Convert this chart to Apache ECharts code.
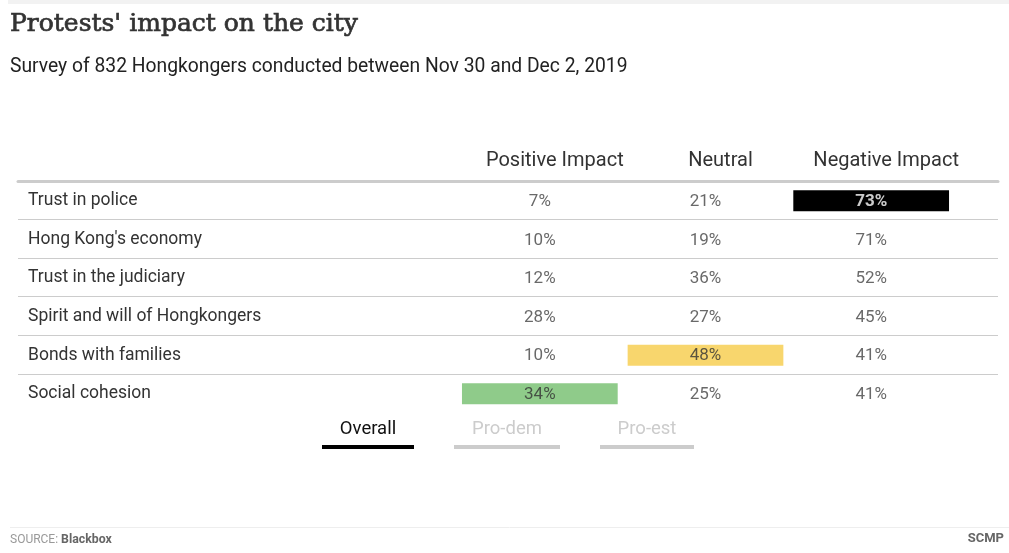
<!DOCTYPE html>
<html>
<head>
<meta charset="utf-8">
<script src="https://cdn.jsdelivr.net/npm/echarts@6/dist/echarts.min.js"></script>
<style>
  html, body { margin: 0; padding: 0; background: #fff; }
  #main { width: 1009px; height: 553px; }
</style>
</head>
<body>
<div id="main"></div>
<script>
// survey rows, top to bottom
const rows = ['Trust in police', "Hong Kong's economy", 'Trust in the judiciary',
  'Spirit and will of Hongkongers', 'Bonds with families', 'Social cohesion'];
const columns = ['Positive Impact', 'Neutral', 'Negative Impact'];
const positive = [7, 10, 12, 28, 10, 34];
const neutral = [21, 19, 36, 27, 48, 25];
const negative = [73, 71, 52, 45, 41, 41];
const tabs = ['Overall', 'Pro-dem', 'Pro-est'];

const colColors = ['#8fcb8a', '#f8d66d', '#000000'];
const colTextColors = ['#333', '#333', '#fff'];
const font = 'Roboto';

var chart = echarts.init(document.getElementById('main'));

// cells + highlighted max of each column
let table = [positive, neutral, negative];
let cells = [];
let marks = [];
table.forEach(function (vals, c) {
  let maxRow = vals.indexOf(Math.max.apply(null, vals));
  vals.forEach(function (v, r) {
    let hot = r === maxRow;
    cells.push({
      value: [c, r, v],
      label: hot ? { color: colTextColors[c], fontWeight: c === 2 ? 'bold' : 'normal' } : undefined
    });
  });
  marks.push([c, maxRow, vals[maxRow]]);
});

// tab buttons under the table
const tabX = [322, 454, 600];
const tabW = [92, 106, 94];
let tabGraphics = [];
tabs.forEach(function (t, i) {
  let on = i === 0;
  tabGraphics.push({
    type: 'rect', left: tabX[i], top: 445,
    shape: { width: tabW[i], height: 4 },
    style: { fill: on ? '#000' : '#ccc' }
  });
  tabGraphics.push({
    type: 'text', x: tabX[i] + tabW[i] / 2, y: 429,
    style: {
      text: t, fontFamily: font, fontSize: 18.5, fill: on ? '#111' : '#ccc',
      textAlign: 'center', textVerticalAlign: 'middle'
    }
  });
});

var option = {
  backgroundColor: '#fff',
  animation: false,
  title: [{
    text: "Protests' impact on the city",
    left: 10, top: 12, padding: 0,
    textStyle: {
      fontFamily: 'DejaVu Serif', fontSize: 25, fontWeight: 'normal', color: '#333',
      textBorderColor: '#333', textBorderWidth: 0.7
    }
  }, {
    text: 'Survey of 832 Hongkongers conducted between Nov 30 and Dec 2, 2019',
    left: 10, top: 58, padding: 0,
    textStyle: { fontFamily: font, fontSize: 19.3, fontWeight: 'normal', color: '#222' }
  }],
  grid: [
    { left: 18, right: 11, top: 181.5, height: 231.6 },
    { left: 457, right: 55, top: 181.5, height: 231.6 }
  ],
  xAxis: [{
    gridIndex: 0, type: 'value', min: 0, max: 1, position: 'top',
    axisLine: { show: true, lineStyle: { color: '#ccc', width: 3 } },
    axisTick: { show: false }, axisLabel: { show: false }, splitLine: { show: false }
  }, {
    gridIndex: 1, type: 'category', data: columns, position: 'top',
    axisLine: { show: false }, axisTick: { show: false }, splitLine: { show: false },
    axisLabel: {
      interval: 0, fontFamily: font, fontSize: 20, color: '#333', margin: 11,
      padding: [0, 0, 0, 30]
    }
  }],
  yAxis: [{
    gridIndex: 0, type: 'category', data: rows, inverse: true, show: false
  }, {
    gridIndex: 1, type: 'category', data: rows, inverse: true,
    axisLine: { show: false }, axisTick: { show: false }, splitLine: { show: false },
    axisLabel: {
      interval: 0, fontFamily: font, fontSize: 17.5, color: '#333', align: 'left', margin: 429,
      padding: [4, 0, 0, 0]
    }
  }],
  series: [{
    // row separators
    type: 'custom', xAxisIndex: 0, yAxisIndex: 0, silent: true,
    data: rows.slice(0, -1).map(function (r, i) { return [0, i]; }),
    renderItem: function (params, api) {
      let p = api.coord([0, api.value(1)]);
      let h = api.size([0, 1])[1];
      let cs = params.coordSys;
      let y = Math.round(p[1] + h / 2) - 0.5;
      return {
        type: 'line',
        shape: { x1: cs.x, y1: y, x2: cs.x + cs.width, y2: y },
        style: { stroke: '#ccc', lineWidth: 1 }
      };
    }
  }, {
    // highlighted cells
    type: 'custom', xAxisIndex: 1, yAxisIndex: 1, silent: true,
    data: marks,
    renderItem: function (params, api) {
      let p = api.coord([api.value(0), api.value(1)]);
      let s = api.size([1, 1]);
      let w = s[0] * 0.94, h = 21;
      return {
        type: 'rect',
        shape: { x: p[0] - w / 2, y: p[1] - h / 2, width: w, height: h },
        style: { fill: colColors[api.value(0)] }
      };
    }
  }, {
    type: 'scatter', xAxisIndex: 1, yAxisIndex: 1, silent: true,
    symbolSize: 0, data: cells,
    label: {
      show: true, position: 'inside', fontFamily: font, fontSize: 17, color: '#444',
      offset: [0, 1],
      formatter: function (p) { return p.value[2] + '%'; }
    }
  }],
  graphic: [
    { type: 'rect', left: 8, top: 0, shape: { width: 1001, height: 4 }, style: { fill: '#f2f2f2' } },
    { type: 'line', shape: { x1: 10, y1: 527.5, x2: 1009, y2: 527.5 }, style: { stroke: '#eee', lineWidth: 1 } },
    {
      type: 'text', x: 10, y: 540,
      style: {
        text: '{a|SOURCE: }{b|Blackbox}', textVerticalAlign: 'middle',
        rich: {
          a: { fontFamily: font, fontSize: 12, fill: '#999' },
          b: { fontFamily: font, fontSize: 12.3, fontWeight: 'bold', fill: '#666' }
        }
      }
    },
    {
      type: 'text', x: 1004, y: 539,
      style: { text: 'SCMP', fontFamily: font, fontSize: 13, fontWeight: 'bold', fill: '#666', textAlign: 'right', textVerticalAlign: 'middle' }
    }
  ].concat(tabGraphics)
};

chart.setOption(option);
</script>
</body>
</html>
